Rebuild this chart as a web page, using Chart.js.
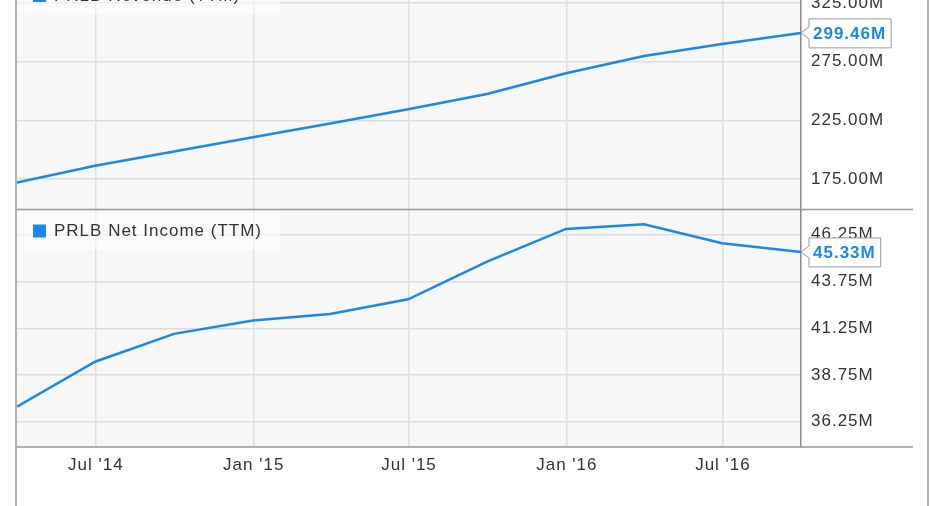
<!DOCTYPE html>
<html>
<head>
<meta charset="utf-8">
<script src="https://cdn.jsdelivr.net/npm/chart.js@4.4.1/dist/chart.umd.min.js"></script>
<style>
  html, body { margin: 0; padding: 0; background: #fff; overflow: hidden; }
  #wrap { position: relative; width: 931px; height: 506px; overflow: hidden; }
  #myChart { position: absolute; left: 0; top: -26px; }
</style>
</head>
<body>
<div id="wrap">
  <canvas id="myChart" width="931" height="532"></canvas>
</div>
<script>
// quarter end dates and values (millions)
const quarterEnds = ['2014-03-31', '2014-06-30', '2014-09-30', '2014-12-31', '2015-03-31', '2015-06-30',
                     '2015-09-30', '2015-12-31', '2016-03-31', '2016-06-30', '2016-09-30'];
const revenue = [171.9, 186.3, 198.4, 210.5, 222.3, 234.4, 247.4, 265.0, 279.8, 290.0, 299.46];
const netIncome = [37.06, 39.46, 40.95, 41.66, 42.01, 42.80, 44.81, 46.56, 46.81, 45.80, 45.33];

const xTickDates = ['2014-07-01', '2015-01-01', '2015-07-01', '2016-01-01', '2016-07-01'];
const xTickLabels = ["Jul '14", "Jan '15", "Jul '15", "Jan '16", "Jul '16"];
const revenueTicks = [175, 225, 275, 325];
const incomeTicks = [36.25, 38.75, 41.25, 43.75, 46.25];

const blue = '#1a88e6';
const font = "'Liberation Sans', Arial, sans-serif";

function dayNum(s) {
    return Date.parse(s) / 864e5;
}

// keep the tick labels from pushing the plot area around
function noPadding(scale) {
    scale.paddingTop = 0;
    scale.paddingBottom = 0;
    scale.paddingLeft = 0;
    scale.paddingRight = 0;
}

const panelPlugin = {
    id: 'panels',
    beforeDraw(chart) {
        const ctx = chart.ctx;
        const a = chart.chartArea;
        ctx.letterSpacing = '1px';   // the original text is drawn a bit looser
        ctx.save();
        ctx.fillStyle = '#f7f7f7';
        ctx.fillRect(a.left, a.top, a.right - a.left, a.bottom - a.top);
        ctx.restore();
    },
    beforeDatasetsDraw(chart) {
        const ctx = chart.ctx;
        const a = chart.chartArea;
        ['y', 'y2'].forEach((id, i) => {
            const s = chart.scales[id];
            ctx.save();
            ctx.fillStyle = 'rgba(255,255,255,0.55)';
            ctx.fillRect(a.left, s.top + 2, 263, 38);
            ctx.fillStyle = blue;
            ctx.fillRect(a.left + 16, s.top + 15, 13, 13);
            ctx.fillStyle = '#333';
            ctx.font = '17px ' + font;
            ctx.textBaseline = 'middle';
            ctx.fillText(chart.data.datasets[i].label, a.left + 37, s.top + 22);
            ctx.restore();
        });
    },
    afterDraw(chart) {
        const ctx = chart.ctx;
        const h = chart.height;
        ctx.save();
        ctx.strokeStyle = '#999';
        ctx.lineWidth = 1.5;
        ctx.beginPath();
        ctx.moveTo(16, 0); ctx.lineTo(16, h);
        ctx.moveTo(928, 0); ctx.lineTo(928, h);
        ctx.moveTo(17, chart.scales.y.bottom); ctx.lineTo(913, chart.scales.y.bottom);
        ctx.moveTo(17, chart.scales.y2.bottom); ctx.lineTo(913, chart.scales.y2.bottom);
        ctx.stroke();

        // last value labels
        chart.data.datasets.forEach((ds, i) => {
            const meta = chart.getDatasetMeta(i);
            const pt = meta.data[meta.data.length - 1];
            const text = ds.data[ds.data.length - 1].y.toFixed(2) + 'M';
            ctx.font = 'bold 17px ' + font;
            const w = ctx.measureText(text).width;
            const l = pt.x + 8, r = l + w + 9, t = pt.y - 14, b = pt.y + 15;
            ctx.beginPath();
            ctx.moveTo(pt.x, pt.y);
            ctx.lineTo(l, pt.y - 6);
            ctx.lineTo(l, t);
            ctx.lineTo(r, t);
            ctx.lineTo(r, b);
            ctx.lineTo(l, b);
            ctx.lineTo(l, pt.y + 6);
            ctx.closePath();
            ctx.fillStyle = '#fff';
            ctx.fill();
            ctx.strokeStyle = '#999';
            ctx.lineWidth = 1;
            ctx.stroke();
            ctx.fillStyle = blue;
            ctx.textBaseline = 'middle';
            ctx.fillText(text, l + 4, pt.y + 1);
        });
        ctx.restore();
    }
};

const gridColor = '#dddddd';

function yAxis(ticks, min, max, weight) {
    return {
        type: 'linear',
        position: 'right',
        stack: 'panels',
        stackWeight: weight,
        min: min,
        max: max,
        afterBuildTicks: (scale) => { scale.ticks = ticks.map(v => ({ value: v })); },
        afterFit: (scale) => { scale.width = 130; noPadding(scale); },
        grid: { color: gridColor, lineWidth: 1.5, drawTicks: false },
        border: { display: true, color: '#888', width: 1.5 },
        ticks: {
            color: '#333',
            padding: 10,
            font: { family: font, size: 17 },
            callback: (v) => v.toFixed(2) + 'M'
        }
    };
}

var ctx = document.getElementById('myChart').getContext('2d');

var config = {
    type: 'line',
    data: {
        datasets: [{
            label: 'PRLB Revenue (TTM)',
            yAxisID: 'y',
            borderColor: blue,
            borderWidth: 2.5,
            pointRadius: 0,
            fill: false,
            data: quarterEnds.map((d, i) => ({ x: dayNum(d), y: revenue[i] }))
        }, {
            label: 'PRLB Net Income (TTM)',
            yAxisID: 'y2',
            borderColor: blue,
            borderWidth: 2.5,
            pointRadius: 0,
            fill: false,
            data: quarterEnds.map((d, i) => ({ x: dayNum(d), y: netIncome[i] }))
        }]
    },
    options: {
        responsive: false,
        animation: false,
        layout: { autoPadding: false, padding: { left: 17, right: 0, top: 0, bottom: 0 } },
        plugins: {
            legend: { display: false },
            tooltip: { enabled: false }
        },
        scales: {
            x: {
                type: 'linear',
                min: dayNum(quarterEnds[0]),
                max: dayNum(quarterEnds[quarterEnds.length - 1]),
                afterBuildTicks: (scale) => { scale.ticks = xTickDates.map(d => ({ value: dayNum(d) })); },
                afterFit: (scale) => { scale.height = 59; noPadding(scale); },
                grid: { color: gridColor, lineWidth: 1.5, drawTicks: false },
                border: { display: false },
                ticks: {
                    color: '#333',
                    padding: 8,
                    autoSkip: false,
                    maxRotation: 0,
                    font: { family: font, size: 17 },
                    callback: (v) => xTickLabels[xTickDates.map(dayNum).indexOf(v)]
                }
            },
            y: yAxis(revenueTicks, 149.0, 349.6, 235.5),
            y2: yAxis(incomeTicks, 34.9, 47.6, 237.5)
        }
    },
    plugins: [panelPlugin]
};

var myChart = new Chart(ctx, config);
</script>
</body>
</html>
